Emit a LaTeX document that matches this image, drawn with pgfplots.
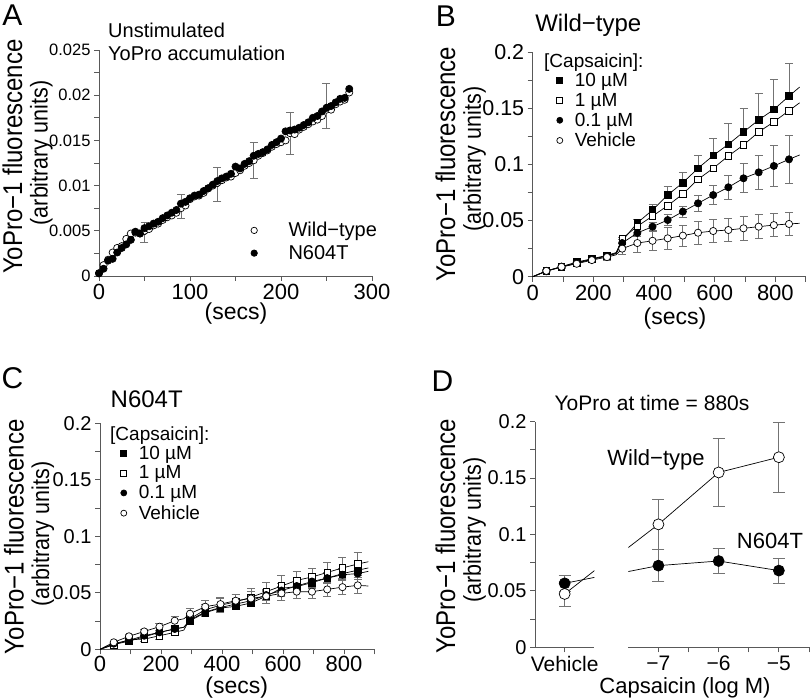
\documentclass[border=0pt]{standalone}
\usepackage{pgfplots}
\usepackage{pgfplotstable}
\pgfplotsset{compat=1.18}
\usepackage{fontspec}
\setmainfont{Liberation Sans}
\definecolor{axgray}{gray}{0.35}
\definecolor{ebgray}{gray}{0.45}
\newcommand{\fs}[1]{\fontsize{#1}{#1}\selectfont}
\newcommand{\tall}[1]{\scalebox{1}[1.13]{#1}}

\pgfplotsset{
  myaxis/.style={
    scale only axis, anchor=south west,
    axis x line*=bottom, axis y line*=left,
    axis line style={axgray, line width=0.8pt, -},
    tick style={axgray, line width=0.8pt},
    tick align=outside, major tick length=5pt, minor tick length=5pt,
    scaled ticks=false, clip=true,
    every axis plot/.append style={line width=0.7pt},
    legend style={draw=none, fill=none, inner sep=0pt},
    legend cell align=left,
    legend image code/.code={\draw[##1, mark size=3pt] plot coordinates {(0pt,0pt)};},
  },
  widelegend/.style={
    legend image code/.code={\draw[##1, mark size=3.2pt] plot coordinates {(0pt,0pt)}; \path (22pt,0pt);},
  },
  eb/.style={error bars/.cd, y dir=both, y explicit,
    error bar style={ebgray, line width=0.8pt},
    error mark options={ebgray, rotate=90, mark size=#1, line width=0.8pt}},
  eb/.default=4pt,
  ebplus/.style={error bars/.cd, y dir=plus, y explicit,
    error bar style={ebgray, line width=0.8pt},
    error mark options={ebgray, rotate=90, mark size=4pt, line width=0.8pt}},
  fc/.style={only marks, mark=*, mark size=#1, mark options={fill=black, draw=black, line width=0.7pt}},
  oc/.style={only marks, mark=*, mark size=#1, mark options={fill=white, draw=black, line width=0.7pt}},
  fs/.style={only marks, mark=square*, mark size=#1, mark options={fill=black, draw=black, line width=0.7pt}},
  os/.style={only marks, mark=square*, mark size=#1, mark options={fill=white, draw=black, line width=0.7pt}},
}

% Panel A: t, N604T, Wild-type
\pgfplotstableread{
t n w
0 0.0003 0.0003
5 0.0008 0.0012
10 0.0017 0.0018
15 0.0019 0.0026
20 0.0026 0.0031
25 0.0031 0.0033
30 0.0035 0.0041
35 0.0040 0.0047
40 0.0049 0.0048
45 0.0047 0.0047
50 0.0053 0.0050
55 0.0055 0.0052
60 0.0058 0.0056
65 0.0060 0.0058
70 0.0064 0.0062
75 0.0067 0.0065
80 0.0070 0.0067
85 0.0073 0.0070
90 0.0080 0.0075
95 0.0082 0.0078
100 0.0086 0.0085
105 0.0089 0.0088
110 0.0090 0.0089
115 0.0094 0.0092
120 0.0097 0.0097
125 0.0101 0.0100
130 0.0105 0.0103
135 0.0108 0.0106
140 0.0110 0.0109
145 0.0113 0.0110
150 0.0121 0.0114
155 0.0119 0.0117
160 0.0124 0.0122
165 0.0127 0.0125
170 0.0133 0.0128
175 0.0135 0.0133
180 0.0137 0.0136
185 0.0140 0.0139
190 0.0145 0.0143
195 0.0148 0.0146
200 0.0152 0.0148
205 0.0160 0.0150
210 0.0161 0.0158
215 0.0162 0.0157
220 0.0164 0.0162
225 0.0167 0.0165
230 0.0170 0.0168
235 0.0175 0.0171
240 0.0177 0.0173
245 0.0182 0.0177
250 0.0186 0.0184
255 0.0188 0.0184
260 0.0192 0.0190
265 0.0196 0.0193
270 0.0197 0.0195
275 0.0207 0.0203
}\dataA
\pgfplotstableread{
t w e
50 0.0048 0.0011
90 0.0077 0.0013
130 0.0101 0.0019
170 0.0128 0.0020
210 0.0158 0.0023
250 0.0188 0.0025
}\errA

% Panel B markers: 10uM (a), 1uM (b), 0.1uM (c), vehicle (v)
\pgfplotstableread{
t a ea b c ec v ev
45 0.005 0.001 0.005 0.0048 0.001 0.0052 0.001
95 0.009 0.001 0.0085 0.009 0.001 0.0088 0.001
145 0.013 0.0012 0.012 0.0125 0.0012 0.0115 0.0012
195 0.016 0.0015 0.0155 0.0155 0.0015 0.0148 0.0015
245 0.019 0.002 0.0185 0.0185 0.002 0.0175 0.003
295 0.032 0.003 0.034 0.030 0.003 0.025 0.005
345 0.048 0.003 0.045 0.039 0.003 0.030 0.008
395 0.0594 0.005 0.054 0.0446 0.004 0.032 0.009
445 0.0728 0.0074 0.0633 0.0505 0.005 0.0342 0.0095
495 0.0838 0.009 0.0737 0.058 0.005 0.0366 0.0095
545 0.0966 0.0116 0.0868 0.0654 0.007 0.0392 0.010
595 0.108 0.015 0.0966 0.0728 0.0085 0.0407 0.010
645 0.118 0.019 0.1076 0.0797 0.011 0.0416 0.010
695 0.129 0.021 0.1174 0.0877 0.013 0.0431 0.0105
745 0.1397 0.024 0.129 0.093 0.015 0.0446 0.0105
795 0.149 0.027 0.138 0.0987 0.018 0.046 0.0105
845 0.161 0.029 0.148 0.1046 0.0215 0.047 0.0105
}\markB
\pgfplotstableread{
t a b c v
0 0 0 0 0
45 0.005 0.005 0.0048 0.0052
95 0.009 0.0085 0.009 0.0088
145 0.013 0.012 0.0125 0.0115
195 0.016 0.0155 0.0155 0.0148
245 0.019 0.0185 0.0185 0.0175
275 0.0215 0.021 0.0205 0.0195
295 0.032 0.034 0.030 0.025
345 0.048 0.045 0.039 0.030
395 0.0594 0.054 0.0446 0.032
445 0.0728 0.0633 0.0505 0.0342
495 0.0838 0.0737 0.058 0.0366
545 0.0966 0.0868 0.0654 0.0392
595 0.108 0.0966 0.0728 0.0407
645 0.118 0.1076 0.0797 0.0416
695 0.129 0.1174 0.0877 0.0431
745 0.1397 0.129 0.093 0.0446
795 0.149 0.138 0.0987 0.046
845 0.161 0.148 0.1046 0.047
880 0.169 0.155 0.1085 0.0476
}\lineB

% Panel C
\pgfplotstableread{
t a ea b eb c ec v ev
45 0.0042 0.001 0.004 0.001 0.005 0.001 0.0062 0.001
95 0.0072 0.0012 0.0085 0.0015 0.008 0.0012 0.0115 0.0015
145 0.011 0.0015 0.009 0.002 0.012 0.0015 0.0158 0.002
195 0.015 0.002 0.012 0.003 0.015 0.002 0.020 0.003
245 0.018 0.002 0.015 0.003 0.018 0.002 0.0253 0.004
295 0.0253 0.003 0.027 0.004 0.026 0.003 0.0315 0.005
345 0.0324 0.003 0.035 0.005 0.033 0.003 0.0377 0.006
395 0.0365 0.003 0.039 0.006 0.037 0.003 0.040 0.006
445 0.038 0.003 0.042 0.007 0.040 0.003 0.043 0.006
495 0.041 0.003 0.046 0.008 0.043 0.003 0.045 0.006
545 0.047 0.004 0.051 0.008 0.048 0.004 0.047 0.006
595 0.054 0.004 0.056 0.009 0.052 0.004 0.0495 0.006
645 0.0555 0.004 0.061 0.0078 0.056 0.004 0.051 0.006
695 0.059 0.005 0.064 0.008 0.060 0.005 0.051 0.006
745 0.063 0.005 0.068 0.009 0.063 0.005 0.053 0.0065
795 0.067 0.005 0.072 0.0097 0.066 0.005 0.055 0.0068
845 0.070 0.005 0.0755 0.010 0.067 0.005 0.0566 0.0068
}\markC
\pgfplotstableread{
t a b c v
0 0 0 0 0
45 0.0042 0.004 0.005 0.0062
95 0.0072 0.0085 0.008 0.0115
145 0.011 0.009 0.012 0.0158
195 0.015 0.012 0.015 0.020
245 0.018 0.015 0.018 0.0253
275 0.0195 0.017 0.0195 0.027
295 0.0253 0.027 0.026 0.0315
345 0.0324 0.035 0.033 0.0377
395 0.0365 0.039 0.037 0.040
445 0.038 0.042 0.040 0.043
495 0.041 0.046 0.043 0.045
545 0.047 0.051 0.048 0.047
595 0.054 0.056 0.052 0.0495
645 0.0555 0.061 0.056 0.051
695 0.059 0.064 0.060 0.051
745 0.063 0.068 0.063 0.053
795 0.067 0.072 0.066 0.055
845 0.070 0.0755 0.067 0.0566
880 0.072 0.0775 0.069 0.056
}\lineC

% Panel D (x: Vehicle plotted at -8.5)
\pgfplotstableread{
x w ew n en
-8.5 0.0473 0.011 0.0567 0.0074
-7 0.109 0.022 0.0724 0.014
-6 0.155 0.030 0.0765 0.011
-5 0.1685 0.031 0.068 0.011
}\dataD

\begin{document}
\begin{tikzpicture}
\path[use as bounding box] (0pt,0pt) rectangle (812pt,699pt);

%%%%%%%%%%%% A
\begin{axis}[myaxis, widelegend, at={(99pt,423pt)}, width=273pt, height=226pt,
  xmin=0, xmax=300, ymin=0, ymax=0.025,
  xtick={0,100,200,300}, xticklabels={0,100,200,300}, minor xtick={50,150,250},
  ytick={0,0.005,0.01,0.015,0.02,0.025}, yticklabels={0,0.005,0.01,0.015,0.02,0.025},
  minor ytick={0.0025,0.0075,0.0125,0.0175,0.0225},
  xticklabel style={font=\fs{22}}, yticklabel style={font=\fs{16.5}},
  legend style={at={(0.556,0.152)}, anchor=west, font=\fs{20}, row sep=3pt, column sep=10pt},
]
\addplot[only marks, mark=none, forget plot, eb] table[x=t, y=w, y error=e] {\errA};
\addplot[oc=3.6pt] table[x=t, y=w] {\dataA};
\addplot[fc=3.6pt] table[x=t, y=n] {\dataA};
\addlegendentry{Wild−type}
\addlegendentry{N604T}
\end{axis}

%%%%%%%%%%%% B
\begin{axis}[myaxis, at={(532.7pt,422.3pt)}, width=273pt, height=224.4pt,
  xmin=0, xmax=900, ymin=0, ymax=0.2,
  xtick={0,200,400,600,800}, xticklabels={0,200,400,600,800}, minor xtick={100,300,500,700,900},
  ytick={0,0.05,0.1,0.15,0.2}, yticklabels={0,0.05,0.1,0.15,0.2},
  minor ytick={0.025,0.075,0.125,0.175},
  xticklabel style={font=\fs{22}}, yticklabel style={font=\fs{21.5}},
  legend style={at={(0.0875,0.74)}, anchor=west, font=\fs{19}, row sep=1.2pt, column sep=10pt},
]
\addplot[only marks, mark=none, forget plot, ebplus] table[x=t, y=a, y error=ea] {\markB};
\addplot[only marks, mark=none, forget plot, eb] table[x=t, y=c, y error=ec] {\markB};
\addplot[only marks, mark=none, forget plot, eb] table[x=t, y=v, y error=ev] {\markB};
\addplot[black, no marks, forget plot] table[x=t, y=a] {\lineB};
\addplot[black, no marks, forget plot] table[x=t, y=b] {\lineB};
\addplot[black, no marks, forget plot] table[x=t, y=c] {\lineB};
\addplot[black, no marks, forget plot] table[x=t, y=v] {\lineB};
\addplot[fs=3.3pt] table[x=t, y=a] {\markB};
\addplot[os=3.3pt] table[x=t, y=b] {\markB};
\addplot[fc=3.6pt] table[x=t, y=c] {\markB};
\addplot[oc=3.6pt] table[x=t, y=v] {\markB};
\addlegendentry{10 µM}
\addlegendentry{1 µM}
\addlegendentry{0.1 µM}
\addlegendentry{Vehicle}
\end{axis}

%%%%%%%%%%%% C
\begin{axis}[myaxis, at={(100pt,49.7pt)}, width=274.5pt, height=226pt,
  xmin=0, xmax=900, ymin=0, ymax=0.2,
  xtick={0,200,400,600,800}, xticklabels={0,200,400,600,800}, minor xtick={100,300,500,700,900},
  ytick={0,0.05,0.1,0.15,0.2}, yticklabels={0,0.05,0.1,0.15,0.2},
  minor ytick={0.025,0.075,0.125,0.175},
  xticklabel style={font=\fs{22}, yshift=2pt}, yticklabel style={font=\fs{20}},
  legend style={at={(0.075,0.7345)}, anchor=west, font=\fs{19}, row sep=1.2pt, column sep=10pt},
]
\addplot[only marks, mark=none, forget plot, eb] table[x=t, y=a, y error=ea] {\markC};
\addplot[only marks, mark=none, forget plot, eb] table[x=t, y=b, y error=eb] {\markC};
\addplot[only marks, mark=none, forget plot, eb] table[x=t, y=c, y error=ec] {\markC};
\addplot[only marks, mark=none, forget plot, eb] table[x=t, y=v, y error=ev] {\markC};
\addplot[black, no marks, forget plot] table[x=t, y=a] {\lineC};
\addplot[black, no marks, forget plot] table[x=t, y=b] {\lineC};
\addplot[black, no marks, forget plot] table[x=t, y=c] {\lineC};
\addplot[black, no marks, forget plot] table[x=t, y=v] {\lineC};
\addplot[fs=3.3pt] table[x=t, y=a] {\markC};
\addplot[os=3.3pt] table[x=t, y=b] {\markC};
\addplot[fc=3.6pt] table[x=t, y=c] {\markC};
\addplot[oc=3.6pt] table[x=t, y=v] {\markC};
\addlegendentry{10 µM}
\addlegendentry{1 µM}
\addlegendentry{0.1 µM}
\addlegendentry{Vehicle}
\end{axis}

%%%%%%%%%%%% D left
\begin{axis}[myaxis, at={(535pt,51.7pt)}, width=59.3pt, height=225.6pt,
  xmin=-9, xmax=-8, ymin=0, ymax=0.2,
  xtick={-8.5}, xticklabels={Vehicle},
  ytick={0,0.05,0.1,0.15,0.2}, yticklabels={0,0.05,0.1,0.15,0.2},
  minor ytick={0.025,0.075,0.125,0.175},
  xticklabel style={font=\fs{21}}, yticklabel style={font=\fs{20}},
]
\addplot[black, no marks] table[x=x, y=w] {\dataD};
\addplot[black, no marks] table[x=x, y=n] {\dataD};
\addplot[only marks, mark=none, eb=6pt] table[x=x, y=w, y error=ew] {\dataD};
\addplot[only marks, mark=none, eb=6pt] table[x=x, y=n, y error=en] {\dataD};
\addplot[fc=5.5pt] coordinates {(-8.5,0.0567)};
\addplot[oc=5.5pt] coordinates {(-8.5,0.0473)};
\end{axis}

%%%%%%%%%%%% D right
\begin{axis}[myaxis, at={(628.3pt,51.7pt)}, width=180.7pt, height=225.6pt,
  xmin=-7.5, xmax=-4.5, ymin=0, ymax=0.2, axis y line=none,
  xtick={-7,-6,-5}, xticklabels={−7,−6,−5}, minor xtick={-6.5,-5.5,-4.5},
  xticklabel style={font=\fs{21}},
]
\addplot[black, no marks] table[x=x, y=w] {\dataD};
\addplot[black, no marks] table[x=x, y=n] {\dataD};
\addplot[only marks, mark=none, eb=6pt] table[x=x, y=w, y error=ew] {\dataD};
\addplot[only marks, mark=none, eb=6pt] table[x=x, y=n, y error=en] {\dataD};
\addplot[oc=5.5pt] coordinates {(-7,0.109) (-6,0.155) (-5,0.1685)};
\addplot[fc=5.5pt] coordinates {(-7,0.0724) (-6,0.0765) (-5,0.068)};
\end{axis}

%%%%%%%%%%%% texts
\node[font=\fs{30}] at (12.5pt,683.5pt) {A};
\node[font=\fs{30}] at (446pt,683pt) {B};
\node[font=\fs{30}] at (12.5pt,321pt) {C};
\node[font=\fs{30}] at (442.5pt,318pt) {D};

\node[font=\fs{20}, anchor=west, inner sep=0pt] at (108pt,669pt) {Unstimulated};
\node[font=\fs{20}, anchor=west, inner sep=0pt] at (108pt,645.7pt) {YoPro accumulation};
\node[font=\fs{24}, inner sep=0pt] at (588.3pt,674pt) {Wild−type};
\node[font=\fs{24}, inner sep=0pt] at (146.7pt,299.7pt) {N604T};
\node[font=\fs{21}, inner sep=0pt] at (652pt,296pt) {YoPro at time = 880s};

\node[font=\fs{19}, anchor=west, inner sep=0pt] at (544pt,636.3pt) {[Capsaicin]:};
\node[font=\fs{19}, anchor=west, inner sep=0pt] at (110pt,263pt) {[Capsaicin]:};

\node[font=\fs{24}, rotate=90, anchor=base, inner sep=0pt] at (22pt,542.3pt) {\tall{YoPro−1 fluorescence}};
\node[font=\fs{21.5}, rotate=90, anchor=base, inner sep=0pt] at (47.5pt,546pt) {\tall{(arbitrary units)}};
\node[font=\fs{24}, rotate=90, anchor=base, inner sep=0pt] at (455.2pt,535pt) {\tall{YoPro−1 fluorescence}};
\node[font=\fs{21.5}, rotate=90, anchor=base, inner sep=0pt] at (480.8pt,540pt) {\tall{(arbitrary units)}};
\node[font=\fs{24}, rotate=90, anchor=base, inner sep=0pt] at (23.5pt,162.3pt) {\tall{YoPro−1 fluorescence}};
\node[font=\fs{21.5}, rotate=90, anchor=base, inner sep=0pt] at (49.1pt,165pt) {\tall{(arbitrary units)}};
\node[font=\fs{24}, rotate=90, anchor=base, inner sep=0pt] at (455.2pt,163pt) {\tall{YoPro−1 fluorescence}};
\node[font=\fs{21.5}, rotate=90, anchor=base, inner sep=0pt] at (480.8pt,169pt) {\tall{(arbitrary units)}};

\node[font=\fs{23}, inner sep=0pt] at (236pt,385.7pt) {(secs)};
\node[font=\fs{23}, inner sep=0pt] at (675pt,380.7pt) {(secs)};
\node[font=\fs{23}, inner sep=0pt] at (236.7pt,11.5pt) {(secs)};
\node[font=\fs{22}, inner sep=0pt] at (685pt,11pt) {Capsaicin (log M)};

\node[font=\fs{22}, inner sep=0pt] at (656pt,239pt) {Wild−type};
\node[font=\fs{22}, inner sep=0pt] at (770pt,158.3pt) {N604T};
\end{tikzpicture}
\end{document}
